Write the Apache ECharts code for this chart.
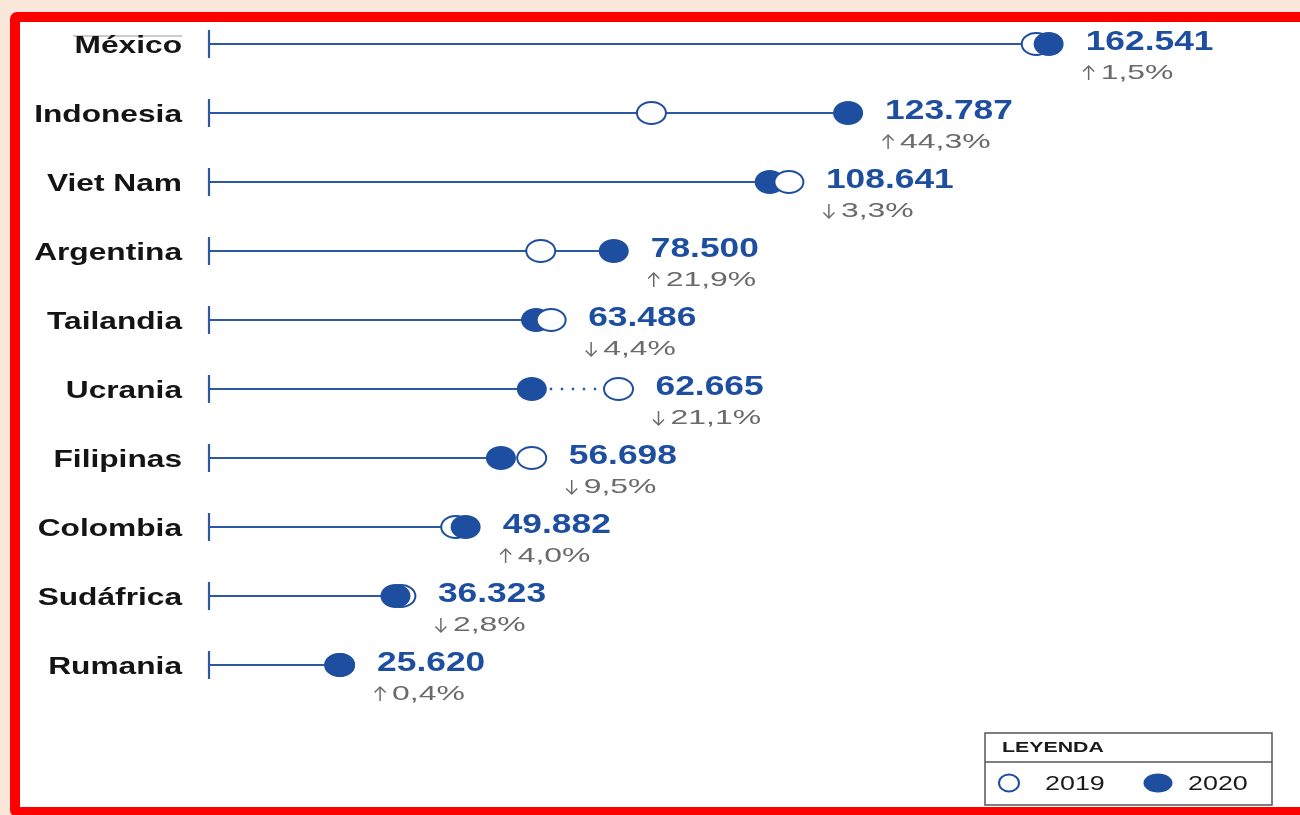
<!DOCTYPE html>
<html lang="es">
<head>
<meta charset="utf-8">
<title>Exportaciones por país, 2019 y 2020</title>
<script src="https://cdn.jsdelivr.net/npm/echarts@6/dist/echarts.min.js"></script>
<style>
  html, body { margin: 0; padding: 0; width: 1300px; height: 815px; overflow: hidden; background: #fbe7d9; }
  #frame {
    position: absolute; left: 10px; top: 12px; width: 1310px; height: 805px;
    box-sizing: border-box; border: 10px solid #ff0000; border-radius: 7px; background: #ffffff;
  }
  #chart { position: absolute; left: 0; top: 0; width: 1300px; height: 815px; }
</style>
</head>
<body>
<div id="frame"></div>
<div id="chart"></div>
<script>
// Countries, top to bottom
const countries = ['México', 'Indonesia', 'Viet Nam', 'Argentina', 'Tailandia',
                   'Ucrania', 'Filipinas', 'Colombia', 'Sudáfrica', 'Rumania'];
// Volumes for each year
const values2019 = [160139, 85785, 112349, 64397, 66408, 79423, 62650, 47963, 37369, 25518];
const values2020 = [162541, 123787, 108641, 78500, 63486, 62665, 56698, 49882, 36323, 25620];
// Year-on-year change, percent
const changePct = [1.5, 44.3, -3.3, 21.9, -4.4, -21.1, -9.5, 4.0, -2.8, 0.4];
// Rows where the 2019 ring sits above the 2020 dot
const ringOnTop = ['Viet Nam', 'Tailandia', 'Filipinas'];

const BLUE = '#1d4e9f';
const LINE = '#2f58a3';
const GREY = '#6a6a6a';
const FONT = "'Liberation Sans', Arial, Helvetica, sans-serif";

function fmtThousands(v) {
  return Math.round(v).toString().replace(/\B(?=(\d{3})+(?!\d))/g, '.');
}
function fmtChange(p) {
  return Math.abs(p).toFixed(1).replace('.', ',') + '%';
}

const rows = countries.map((c, i) => [i, values2019[i], values2020[i], changePct[i]]);

function renderRow(params, api) {
  const i = api.value(0);
  const v19 = api.value(1);
  const v20 = api.value(2);
  const pct = api.value(3);
  const name = countries[i];
  const p0 = api.coord([0, i]);
  const p19 = api.coord([v19, i]);
  const p20 = api.coord([v20, i]);
  const yc = p0[1];
  const children = [];

  // country name
  children.push({
    type: 'text', x: 182, y: yc + 2, scaleX: 1.32, z2: 1,
    style: { text: name, fill: '#141414', font: 'bold 24px ' + FONT, align: 'right', verticalAlign: 'middle' }
  });
  // baseline tick
  children.push({
    type: 'line', z2: 1,
    shape: { x1: p0[0] + 1.5, y1: yc - 14, x2: p0[0] + 1.5, y2: yc + 14 },
    style: { stroke: LINE, lineWidth: 2.2 }
  });
  // stem up to the 2020 value
  children.push({
    type: 'line', z2: 1,
    shape: { x1: p0[0] + 1.5, y1: yc, x2: p20[0], y2: yc },
    style: { stroke: LINE, lineWidth: 1.8 }
  });
  // dotted gap where volume fell
  if (v19 > v20) {
    children.push({
      type: 'line', z2: 1,
      shape: { x1: p20[0] + 18, y1: yc, x2: p19[0] - 14, y2: yc },
      style: { stroke: LINE, lineWidth: 2.4, lineDash: [2.4, 8.6] }
    });
  }
  const ring = {
    type: 'ellipse',
    shape: { cx: p19[0], cy: yc, rx: 14.5, ry: 11 },
    style: { fill: '#ffffff', stroke: BLUE, lineWidth: 2 }
  };
  const dot = {
    type: 'ellipse',
    shape: { cx: p20[0], cy: yc, rx: 15, ry: 12 },
    style: { fill: BLUE }
  };
  if (ringOnTop.indexOf(name) >= 0) {
    dot.z2 = 2; ring.z2 = 3;
  } else {
    ring.z2 = 2; dot.z2 = 3;
  }
  children.push(ring, dot);

  const xLab = Math.max(p19[0], p20[0]) + 37;
  children.push({
    type: 'text', x: xLab, y: yc - 1, scaleX: 1.31, z2: 4,
    style: { text: fmtThousands(v20), fill: BLUE, font: 'bold 27px ' + FONT, align: 'left', verticalAlign: 'middle' }
  });
  // direction arrow: shaft plus head
  const ax = xLab + 3;
  const yTop = yc + 22, yBot = yc + 36;
  const tip = pct >= 0 ? yTop : yBot;
  const dir = pct >= 0 ? 1 : -1;
  children.push({
    type: 'line', z2: 4,
    shape: { x1: ax, y1: yTop, x2: ax, y2: yBot },
    style: { stroke: GREY, lineWidth: 1.5 }
  });
  children.push({
    type: 'polyline', z2: 4,
    shape: { points: [[ax - 5.5, tip + dir * 5.5], [ax, tip], [ax + 5.5, tip + dir * 5.5]] },
    style: { stroke: GREY, lineWidth: 1.5, fill: null }
  });
  children.push({
    type: 'text', x: xLab + 15, y: yc + 29, scaleX: 1.52, z2: 4,
    style: { text: fmtChange(pct), fill: GREY, font: '21px ' + FONT, align: 'left', verticalAlign: 'middle' }
  });
  return { type: 'group', children: children };
}

const chart = echarts.init(document.getElementById('chart'), null, { renderer: 'canvas' });
chart.setOption({
  backgroundColor: 'transparent',
  animation: false,
  grid: { left: 207.5, width: 1035, top: 9.5, height: 690, containLabel: false, outerBoundsMode: 'none' },
  xAxis: { type: 'value', min: 0, max: 200000, show: false },
  yAxis: { type: 'category', data: countries, inverse: true, show: false },
  series: [{
    type: 'custom',
    name: 'Volumen',
    coordinateSystem: 'cartesian2d',
    renderItem: renderRow,
    encode: { x: [1, 2], y: 0 },
    data: rows,
    clip: false
  }],
  graphic: [
    // thin rule above the first row label
    { type: 'line', shape: { x1: 73, y1: 36, x2: 182, y2: 36 }, style: { stroke: '#9a9a9a', lineWidth: 1 } },
    // legend box
    { type: 'rect', shape: { x: 985, y: 733, width: 287, height: 72 },
      style: { fill: '#ffffff', stroke: '#555555', lineWidth: 1.5 } },
    { type: 'line', shape: { x1: 985, y1: 762, x2: 1272, y2: 762 }, style: { stroke: '#555555', lineWidth: 1.5 } },
    { type: 'text', x: 1002, y: 748, scaleX: 1.42,
      style: { text: 'LEYENDA', fill: '#1a1a1a', font: 'bold 15px ' + FONT, verticalAlign: 'middle' } },
    { type: 'ellipse', shape: { cx: 1009, cy: 783, rx: 10, ry: 8.5 },
      style: { fill: '#ffffff', stroke: BLUE, lineWidth: 2 } },
    { type: 'text', x: 1045, y: 784, scaleX: 1.28,
      style: { text: '2019', fill: '#1a1a1a', font: '21px ' + FONT, verticalAlign: 'middle' } },
    { type: 'ellipse', shape: { cx: 1158, cy: 783, rx: 14.5, ry: 9.5 }, style: { fill: BLUE } },
    { type: 'text', x: 1188, y: 784, scaleX: 1.28,
      style: { text: '2020', fill: '#1a1a1a', font: '21px ' + FONT, verticalAlign: 'middle' } }
  ]
});
</script>
</body>
</html>
